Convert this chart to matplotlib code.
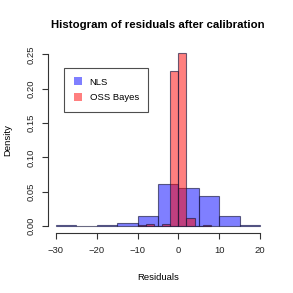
import numpy as np
import matplotlib.pyplot as plt

plt.rcParams['font.family'] = ['Liberation Sans', 'DejaVu Sans']

# histogram bins (density)
nls_edges = [-30, -25, -20, -15, -10, -5, 0, 5, 10, 15, 20]
nls_dens = [0.0015, 0.0, 0.0019, 0.0048, 0.0145, 0.061, 0.056, 0.0436, 0.0145, 0.0015]

oss_edges = [-10, -8, -6, -4, -2, 0, 2, 4, 6, 8]
oss_dens = [0.002, 0.0038, 0.0, 0.0038, 0.226, 0.252, 0.0116, 0.0, 0.0015]

xticks = [-30, -20, -10, 0, 10, 20]
yticks = [0.00, 0.05, 0.10, 0.15, 0.20, 0.25]

fig = plt.figure(figsize=(2.93, 2.93), dpi=100)
ax = fig.add_axes([0.163, 0.204, 0.752, 0.639])


def draw_hist(edges, dens, color, label):
    edges = np.asarray(edges, dtype=float)
    ax.bar(edges[:-1], dens, width=np.diff(edges), align='edge',
           color=color, edgecolor=(0.1, 0.1, 0.25, 0.65), linewidth=0.8,
           label=label)


draw_hist(nls_edges, nls_dens, (0, 0, 1, 0.5), 'NLS')
draw_hist(oss_edges, oss_dens, (1, 0, 0, 0.5), 'OSS Bayes')

ax.set_xlim(-32, 22)
ax.set_ylim(-0.0101, 0.262)

for s in ['top', 'right']:
    ax.spines[s].set_visible(False)
ax.spines['left'].set_bounds(0, 0.25)
ax.spines['bottom'].set_bounds(-30, 20)
for s in ['left', 'bottom']:
    ax.spines[s].set_linewidth(0.8)
    ax.spines[s].set_color('#333333')

ax.set_xticks(xticks)
ax.set_xticklabels([str(t).replace('-', '\u2212') for t in xticks])
ax.set_yticks(yticks)
ax.set_yticklabels(['%.2f' % t for t in yticks], rotation=90, va='center')
ax.tick_params(axis='both', labelsize=6.8, length=4, width=0.8,
               color='#333333', labelcolor='#222222', pad=5)

ax.set_xlabel('Residuals', fontsize=6.8, labelpad=13)
ax.set_ylabel('Density', fontsize=6.8, labelpad=10)
ax.set_title('Histogram of residuals after calibration', fontsize=8.2,
             fontweight='bold', pad=13)

leg = ax.legend(loc='upper left', bbox_to_anchor=(-28, 0.23),
                bbox_transform=ax.transData, fontsize=6.8, fancybox=False,
                frameon=True, borderaxespad=0, handlelength=0.9,
                handleheight=0.9, borderpad=1.0, labelspacing=0.7)
leg.get_frame().set_edgecolor('#222222')
leg.get_frame().set_linewidth(0.8)
for h in leg.legend_handles:
    h.set_edgecolor('none')

fig.savefig('out.png', dpi=100)
